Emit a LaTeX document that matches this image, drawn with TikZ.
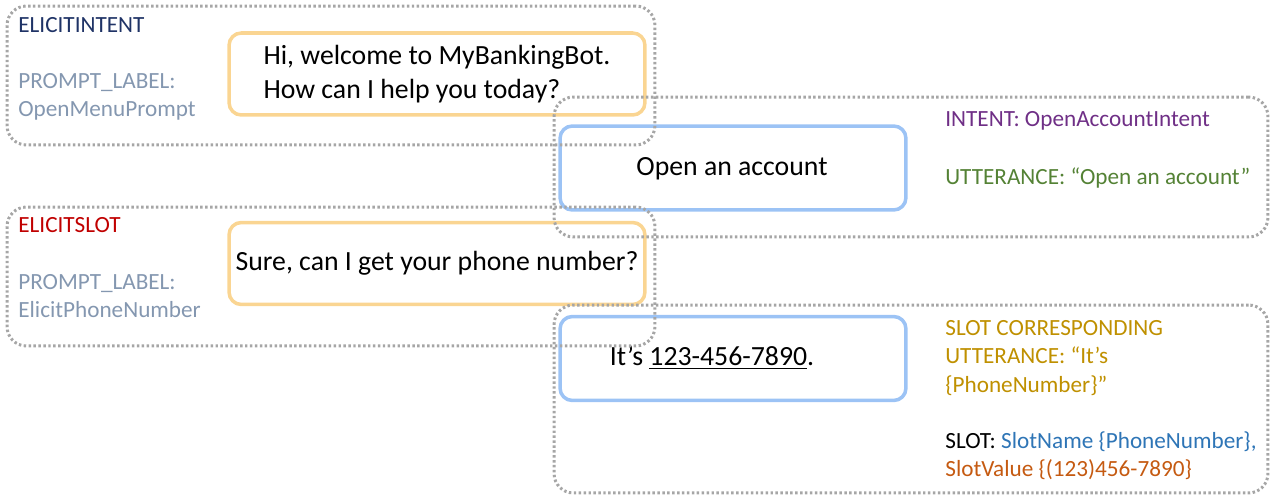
\documentclass[tikz,border=0pt]{standalone}
\usepackage{fontspec}
\setmainfont{Carlito}
\usepackage{xcolor}
\usepackage{tikz}
\usetikzlibrary{positioning}
\definecolor{groupgray}{HTML}{A6A6A6}
\definecolor{botedge}{HTML}{FAD592}
\definecolor{useredge}{HTML}{9CC3F5}
\definecolor{navy}{HTML}{1F3366}
\definecolor{labelgray}{HTML}{8497B0}
\definecolor{slotred}{HTML}{C00000}
\definecolor{intentpurple}{HTML}{6F2F86}
\definecolor{uttgreen}{HTML}{548235}
\definecolor{uttgold}{HTML}{BF9000}
\definecolor{namedblue}{HTML}{2E75B6}
\definecolor{valorange}{HTML}{C55A11}
\tikzset{groupbox/.style={draw=groupgray,line width=1.7pt,dash pattern=on 1.4pt off 1.4pt,
  rounded corners=11pt,inner sep=0pt},
  botmsg/.style={draw=botedge,line width=2pt,rounded corners=7pt,inner sep=0pt,
  minimum width=8.32cm,minimum height=1.64cm,align=left,font=\fontsize{15.8}{19}\selectfont},
  usermsg/.style={draw=useredge,line width=2pt,rounded corners=7pt,inner sep=0pt,
  minimum width=6.92cm,minimum height=1.68cm,font=\fontsize{15.8}{19}\selectfont},
  tag/.style={inner sep=0pt,anchor=west,align=left,font=\fontsize{13.2}{16}\selectfont}}

\begin{document}
\begin{tikzpicture}[x=0.02cm,y=-0.02cm]
\useasboundingbox (0,0) rectangle (1276,500);
% bot and user turns
\node[botmsg] (welcome) at (437,74) {Hi, welcome to MyBankingBot.\\How can I help you today?};
\node[usermsg] (openacct) at (733,168) {};
\node[font=\fontsize{15.8}{19}\selectfont,inner sep=0pt] (accttext) at (732,169) {Open an account};
\node[botmsg] (askphone) at (437,263.5) {Sure, can I get your phone number?};
\node[usermsg] (givephone) at (733,358.5) {};
\node[font=\fontsize{15.8}{19}\selectfont,inner sep=0pt] (phonetext) at (712,358) {It’s \underline{123-456-7890}.};
% dotted groups
\node[groupbox,minimum width=12.96cm,minimum height=2.78cm] (intentgrp) at (331,75.5) {};
\node[groupbox,minimum width=14.28cm,minimum height=2.8cm] (openacctgrp) at (911,167) {};
\node[groupbox,minimum width=12.96cm,minimum height=2.78cm] (slotgrp) at (331,276.5) {};
\node[groupbox,minimum width=14.28cm,minimum height=3.76cm] (phonegrp) at (911,399) {};
% annotations
\node[tag,text=navy] (elicitintent) at (18,25) {ELICITINTENT};
\node[tag,text=labelgray] (menuprompt) at (18,97) {PROMPT\_LABEL:\\OpenMenuPrompt};
\node[tag,text=intentpurple] (intentname) at (945,121) {INTENT: OpenAccountIntent};
\node[tag,text=uttgreen] (intentutt) at (945,178) {UTTERANCE: “Open an account”};
\node[tag,text=slotred] (elicitslot) at (18,225) {ELICITSLOT};
\node[tag,text=labelgray] (phoneprompt) at (18,296) {PROMPT\_LABEL:\\ElicitPhoneNumber};
\node[tag,text=uttgold] (slotutt) at (945,358) {SLOT CORRESPONDING\\UTTERANCE: “It’s\\\{PhoneNumber\}”};
\node[tag] (slotinfo) at (945,456) {SLOT: \textcolor{namedblue}{SlotName \{PhoneNumber\},}\\\textcolor{valorange}{SlotValue \{(123)456-7890\}}};
\end{tikzpicture}
\end{document}
